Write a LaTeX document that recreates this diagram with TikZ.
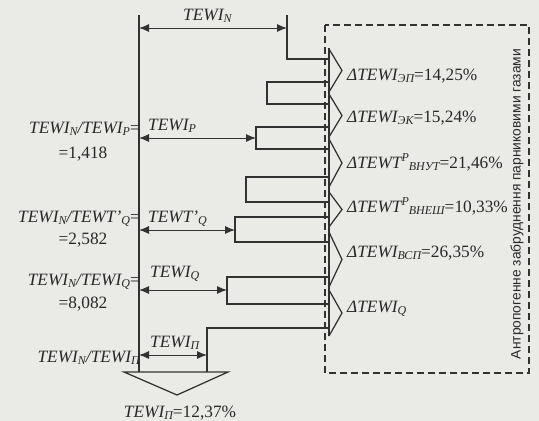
\documentclass[tikz,border=0pt]{standalone}
\usepackage{fontspec}
\setmainfont{Liberation Serif}
\newfontfamily\sansf{Liberation Sans}
\usetikzlibrary{arrows.meta}
\definecolor{bg}{RGB}{234,234,231}
\definecolor{ink}{RGB}{50,50,50}
\definecolor{txt}{RGB}{40,40,40}
\newcommand\sbx[1]{\raisebox{-0.32ex}{\fontsize{12}{12}\selectfont #1}}
\newcommand\spx[1]{\raisebox{0.85ex}{\fontsize{12}{12}\selectfont #1}}
\begin{document}
\begin{tikzpicture}[x=1pt,y=-1pt,
  lbl/.style={font=\fontsize{17.3}{17.3}\selectfont\itshape, text=txt, inner sep=0pt},
  edge/.style={draw=ink, line width=1.25pt, line join=miter},
  dim/.style={draw=ink, line width=1pt, {Latex[length=10pt,width=8pt]}-{Latex[length=10pt,width=8pt]}},
  frame/.style={draw=ink, line width=1.1pt, dash pattern=on 7pt off 4pt}]
\fill[bg] (0,0) rectangle (539,421);
\useasboundingbox (0,0) rectangle (539,421);
% main trunk
\coordinate (L0) at (139,15);
\coordinate (L1) at (139,372);
\coordinate (T0) at (287,15);
\coordinate (T1) at (287,59);
\coordinate (E1) at (329,59);
\draw[edge] (L0) -- (L1);
\draw[edge] (T0) -- (T1) -- (E1);
% base line of arrows
\coordinate (V0) at (329,48);
\coordinate (V1) at (329,336);
\draw[edge] (V0) -- (V1);
% bands (rectangles open to the right)
\draw[edge] (329,82) -| (267,104) -- (329,104);
\draw[edge] (329,127) -| (256,149) -- (329,149);
\draw[edge] (329,177) -| (246,202) -- (329,202);
\draw[edge] (329,217) -| (235,242) -- (329,242);
\draw[edge] (329,277) -| (227,304) -- (329,304);
\draw[edge] (329,328) -| (207,372);
% chevrons
\foreach \c/\h in {70.5/21.5, 115.5/21.5, 163/24, 209.5/17.5, 259.5/27.5, 313/23}{
  \draw[edge] (329,\c-\h) -- (342,\c) -- (329,\c+\h);
}
% bottom outflow
\coordinate (BL) at (124,372);
\coordinate (BR) at (228,372);
\coordinate (BT) at (177,395);
\draw[edge] (BL) -- (BR) -- (BT) -- cycle;
% dimension arrows
\coordinate (aN0) at (139,28);  \coordinate (aN1) at (287,28);
\coordinate (aP0) at (139,138); \coordinate (aP1) at (256,138);
\coordinate (aT0) at (139,230); \coordinate (aT1) at (235,230);
\coordinate (aQ0) at (139,290); \coordinate (aQ1) at (227,290);
\coordinate (aD0) at (139,355); \coordinate (aD1) at (207,355);
\draw[dim] (aN0) -- (aN1);
\draw[dim] (aP0) -- (aP1);
\draw[dim] (aT0) -- (aT1);
\draw[dim] (aQ0) -- (aQ1);
\draw[dim] (aD0) -- (aD1);
% arrow labels
\node[lbl, anchor=base west] (lN) at (183,20) {TEWI\sbx{N}};
\node[lbl, anchor=base west] (lP) at (148,130) {TEWI\sbx{P}};
\node[lbl, anchor=base west] (lT) at (148,222) {TEWT’\sbx{Q}};
\node[lbl, anchor=base west] (lQ) at (150,277) {TEWI\sbx{Q}};
\node[lbl, anchor=base west] (lD) at (150,347) {TEWI\sbx{П}};
% ratio labels
\node[lbl, anchor=base east] (rP) at (140,133) {TEWI\sbx{N}/TEWI\sbx{P}{\upshape=}};
\node[lbl, anchor=base] (rPv) at (83,158) {\upshape =1,418};
\node[lbl, anchor=base east] (rT) at (140,222) {TEWI\sbx{N}/TEWT’\sbx{Q}{\upshape=}};
\node[lbl, anchor=base] (rTv) at (83,244) {\upshape =2,582};
\node[lbl, anchor=base east] (rQ) at (140,285) {TEWI\sbx{N}/TEWI\sbx{Q}{\upshape=}};
\node[lbl, anchor=base] (rQv) at (83,308) {\upshape =8,082};
\node[lbl, anchor=base east] (rD) at (140,362) {TEWI\sbx{N}/TEWI\sbx{П}};
\node[lbl, anchor=base] (bD) at (180,417) {TEWI\sbx{П}\upshape=12,37\%};
% output labels
\node[lbl, anchor=base west] (o1) at (347,80) {ΔTEWI\sbx{ЭП}\upshape=14,25\%};
\node[lbl, anchor=base west] (o2) at (347,122) {ΔTEWI\sbx{ЭК}\upshape=15,24\%};
\node[lbl, anchor=base west] (o3) at (347,168) {ΔTEWT\spx{P}\sbx{ВНУТ}\upshape=21,46\%};
\node[lbl, anchor=base west] (o4) at (347,212) {ΔTEWT\spx{P}\sbx{ВНЕШ}\upshape=10,33\%};
\node[lbl, anchor=base west] (o5) at (347,257) {ΔTEWI\sbx{ВСП}\upshape=26,35\%};
\node[lbl, anchor=base west] (o6) at (347,312) {ΔTEWI\sbx{Q}};
% dashed frame and vertical caption
\draw[frame] (325,25) rectangle (529,373);
\node[rotate=90, text=txt, inner sep=0pt, font=\sansf\fontsize{13.8}{14}\selectfont] (cap) at (517,204) {Антропогенне забруднення парниковими газами};
\end{tikzpicture}
\end{document}
